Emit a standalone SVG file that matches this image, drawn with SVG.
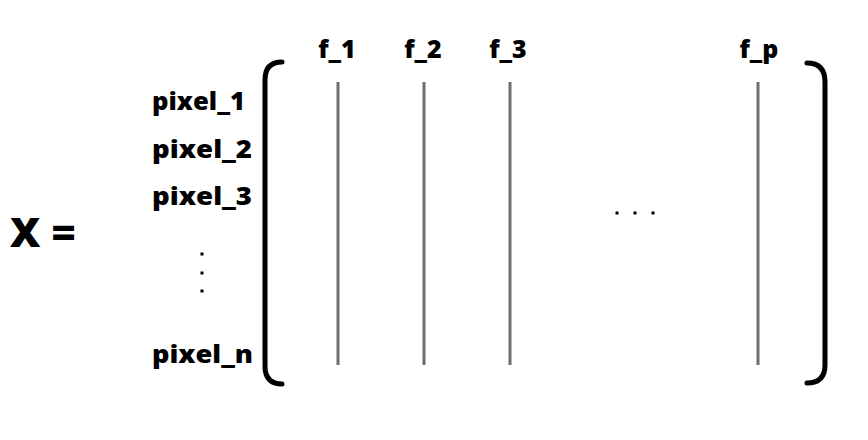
<svg xmlns="http://www.w3.org/2000/svg" width="868" height="440" viewBox="0 0 868 440">
<style>
.t{font-family:"Open Sans","Liberation Sans",sans-serif;font-weight:800;fill:#000}
.row{font-size:24px}
.col{font-size:25px;text-anchor:middle}
.br{fill:none;stroke:#000;stroke-width:5;stroke-linecap:round}
.cl{stroke:#6e6e6e;stroke-width:3}
.dot{fill:#000}
</style>
<rect width="868" height="440" fill="#fff"/>
<g id="label-X"><text class="t" x="10" y="247" font-size="41" textLength="66" lengthAdjust="spacingAndGlyphs">X =</text></g>
<g id="brackets">
<path class="br" d="M282,62 Q265,62 265,80 L265,366 Q265,384 282,384"/>
<path class="br" d="M807,63 Q825,63 825,82 L825,365 Q825,383 807,383"/>
</g>
<g id="rows">
<text class="t row" x="152" y="110" textLength="93" lengthAdjust="spacingAndGlyphs">pixel_1</text>
<text class="t row" x="152" y="158" textLength="100" lengthAdjust="spacingAndGlyphs">pixel_2</text>
<text class="t row" x="152" y="205" textLength="100" lengthAdjust="spacingAndGlyphs">pixel_3</text>
<text class="t row" x="152" y="363" textLength="101" lengthAdjust="spacingAndGlyphs">pixel_n</text>
<rect class="dot" x="200.5" y="252.5" width="3" height="3"/>
<rect class="dot" x="200.5" y="271.5" width="3" height="3"/>
<rect class="dot" x="200.5" y="289.5" width="3" height="3"/>
</g>
<g id="columns">
<text class="t col" x="337" y="58">f_1</text>
<text class="t col" x="423" y="58">f_2</text>
<text class="t col" x="508" y="58">f_3</text>
<text class="t col" x="759" y="58">f_p</text>
<line class="cl" x1="338" y1="82" x2="338" y2="365"/>
<line class="cl" x1="424" y1="82" x2="424" y2="365"/>
<line class="cl" x1="510" y1="82" x2="510" y2="365"/>
<line class="cl" x1="758" y1="82" x2="758" y2="365"/>
<rect class="dot" x="615.5" y="211.5" width="3" height="3"/>
<rect class="dot" x="633.5" y="211.5" width="3" height="3"/>
<rect class="dot" x="651.5" y="211.5" width="3" height="3"/>
</g>
</svg>
